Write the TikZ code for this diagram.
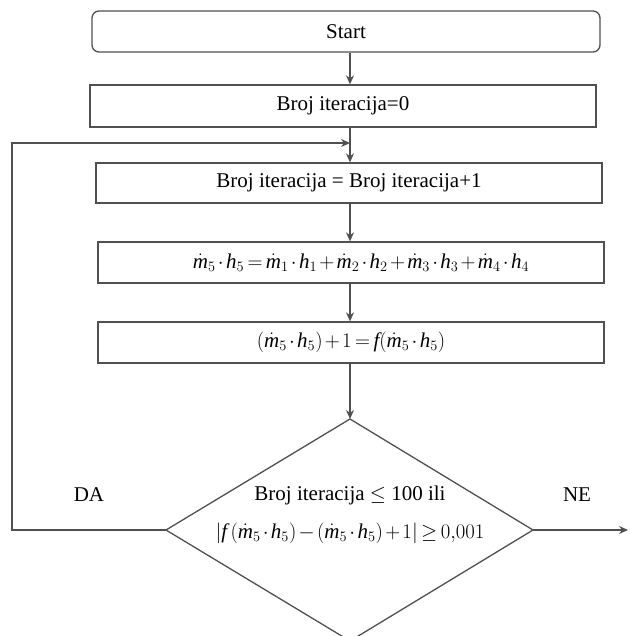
\documentclass[tikz,border=0pt]{standalone}
\usepackage{fontspec}
\setmainfont{Liberation Serif}
\setmathrm{Liberation Serif}
\usetikzlibrary{arrows.meta}
\definecolor{linec}{HTML}{505050}
\newcommand\mdt[1]{\dot{\mathit{m}}_{#1}}
\newcommand\hhh[1]{\mathit{h}_{#1}}
\newcommand\fff{\mathit{f}}
\begin{document}
\begin{tikzpicture}[x=1pt,y=-1pt,
  every node/.style={font=\fontsize{21}{25}\selectfont},
  boxst/.style={draw=linec, line width=1.3pt, minimum height=41pt, inner sep=0pt, fill=white},
  lin/.style={draw=linec, line width=1.3pt},
  arr/.style={lin, -{Stealth[length=9pt,width=8pt]}}]
\medmuskip=2mu plus 1mu minus 1mu
\thickmuskip=3mu plus 1mu
\useasboundingbox (0,0) rectangle (629,636);
\fill[white] (0,0) rectangle (629,636);
\node[boxst, rounded corners=7pt, minimum width=508pt] (start) at (346,31.5) {Start};
\node[boxst, minimum width=506pt, minimum height=42pt] (b0) at (343,106) {Broj iteracija=0};
\node[boxst, minimum width=506pt, minimum height=40pt] (b1) at (349,183) {Broj iteracija = Broj iteracija+1};
\node[boxst, minimum width=506pt] (b2) at (351,262.5) {\hspace*{20pt}$\mdt{5}\cdot\hhh{5}=\mdt{1}\cdot\hhh{1}+\mdt{2}\cdot\hhh{2}+\mdt{3}\cdot\hhh{3}+\mdt{4}\cdot\hhh{4}$};
\node[boxst, minimum width=506pt] (b3) at (351,342.5) {$(\mdt{5}\cdot\hhh{5})+1=\fff(\mdt{5}\cdot\hhh{5})$};
\coordinate (ax) at (350,0);
\coordinate (dt) at (350,419);
\coordinate (dl) at (166,530);
\coordinate (dr) at (533,530);
\coordinate (db) at (350,641);
\coordinate (lc) at (12,143);
\coordinate (out) at (628,530);
\draw[lin] (dt) -- (dr) -- (db) -- (dl) -- cycle;
\node (q1) at (350,495) {Broj iteracija $\le$ 100 ili};
\node (q2) at (350,533) {$\left|\fff\left(\mdt{5}\cdot\hhh{5}\right)-\left(\mdt{5}\cdot\hhh{5}\right)+1\right|\ge 0{,}001$};
\node (da) at (89,495) {DA};
\node (ne) at (577,495) {NE};
\draw[arr] (start.south -| ax) -- (b0.north -| ax);
\draw[arr] (b0.south -| ax) -- (b1.north -| ax);
\draw[arr] (dl) -- (dl -| lc) -- (lc) -- (lc -| ax);
\draw[arr] (b1.south -| ax) -- (b2.north -| ax);
\draw[arr] (b2.south -| ax) -- (b3.north -| ax);
\draw[arr] (b3.south -| ax) -- (dt);
\draw[arr] (dr) -- (out);
\end{tikzpicture}
\end{document}
